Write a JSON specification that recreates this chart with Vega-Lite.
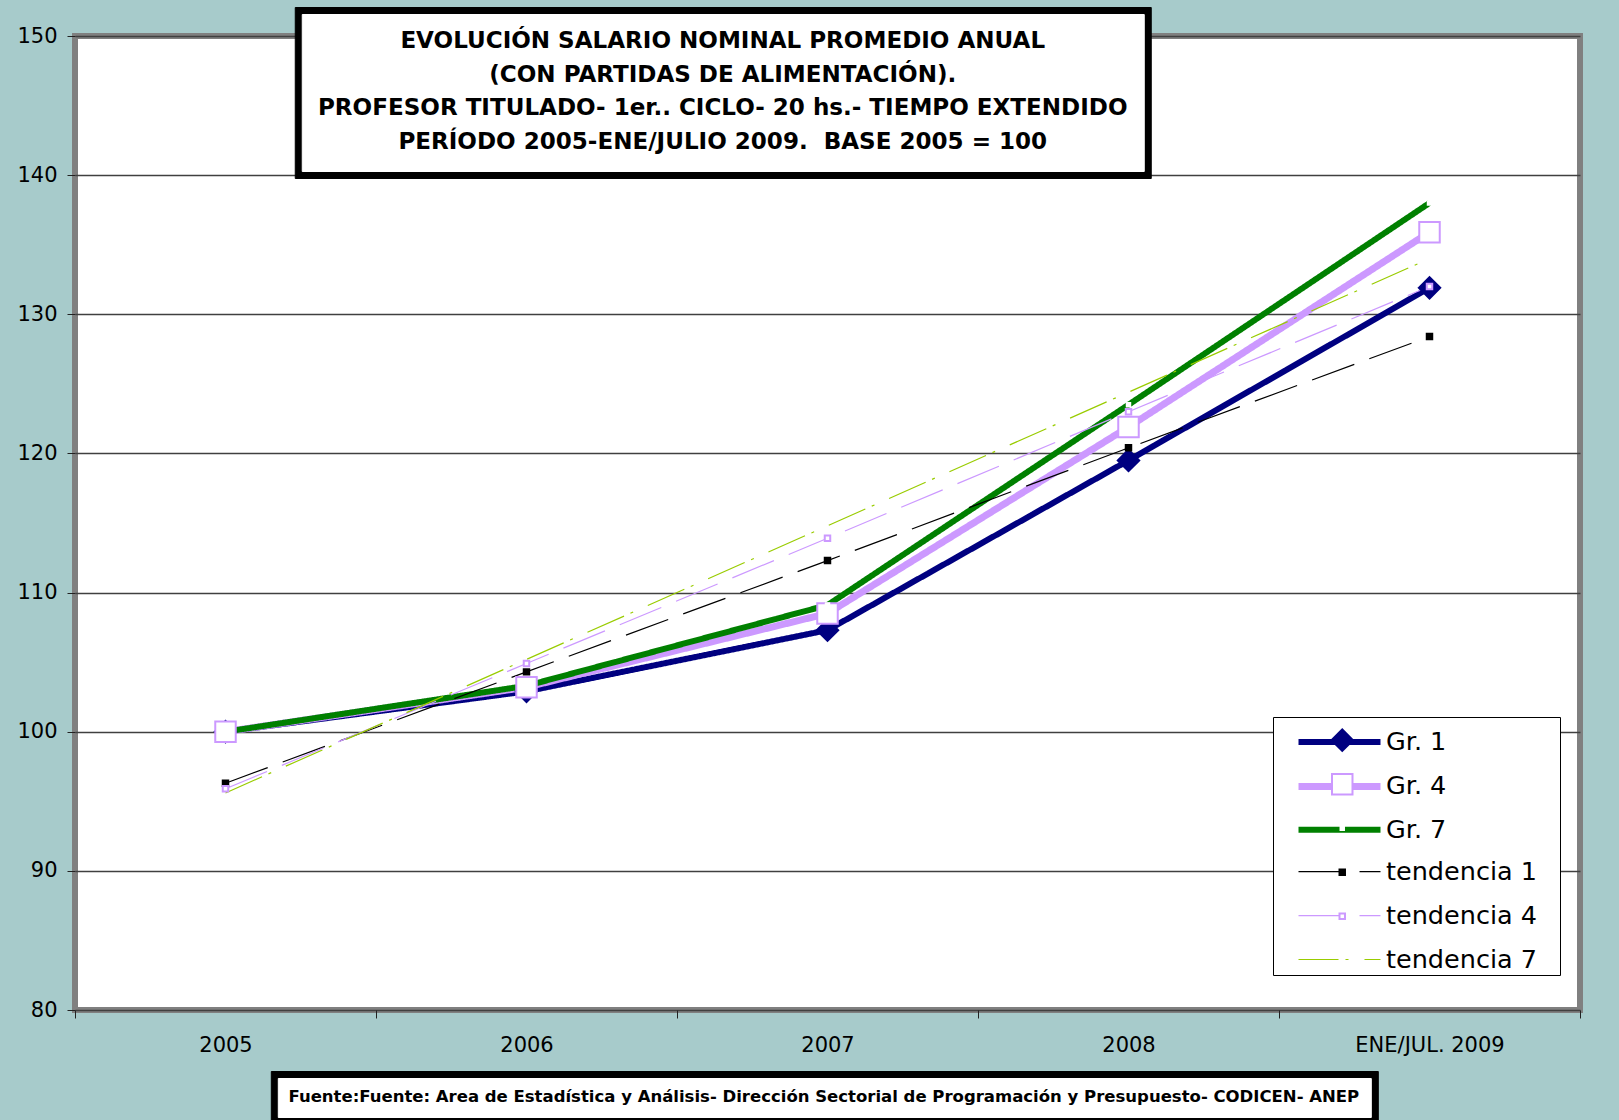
{
  "$schema": "https://vega.github.io/schema/vega-lite/v6.json",
  "width": 1505,
  "height": 974,
  "autosize": "none",
  "padding": {"left": 75, "top": 36, "right": 39, "bottom": 110},
  "background": "#A7CBCB",
  "config": {
    "view": {"fill": "white", "stroke": "#808080", "strokeWidth": 6},
    "font": "DejaVu Sans"
  },
  "data": {
    "values": [
      {"anio": "2005", "serie": "Gr. 1", "valor": 100.0},
      {"anio": "2006", "serie": "Gr. 1", "valor": 102.9},
      {"anio": "2007", "serie": "Gr. 1", "valor": 107.3},
      {"anio": "2008", "serie": "Gr. 1", "valor": 119.5},
      {"anio": "ENE/JUL. 2009", "serie": "Gr. 1", "valor": 131.9},
      {"anio": "2005", "serie": "Gr. 4", "valor": 100.0},
      {"anio": "2006", "serie": "Gr. 4", "valor": 103.2},
      {"anio": "2007", "serie": "Gr. 4", "valor": 108.5},
      {"anio": "2008", "serie": "Gr. 4", "valor": 121.9},
      {"anio": "ENE/JUL. 2009", "serie": "Gr. 4", "valor": 135.9},
      {"anio": "2005", "serie": "Gr. 7", "valor": 100.0},
      {"anio": "2006", "serie": "Gr. 7", "valor": 103.3},
      {"anio": "2007", "serie": "Gr. 7", "valor": 109.1},
      {"anio": "2008", "serie": "Gr. 7", "valor": 123.5},
      {"anio": "ENE/JUL. 2009", "serie": "Gr. 7", "valor": 138.0},
      {"anio": "2005", "serie": "tendencia 1", "valor": 96.3},
      {"anio": "2006", "serie": "tendencia 1", "valor": 104.3},
      {"anio": "2007", "serie": "tendencia 1", "valor": 112.3},
      {"anio": "2008", "serie": "tendencia 1", "valor": 120.4},
      {"anio": "ENE/JUL. 2009", "serie": "tendencia 1", "valor": 128.4},
      {"anio": "2005", "serie": "tendencia 4", "valor": 95.9},
      {"anio": "2006", "serie": "tendencia 4", "valor": 104.9},
      {"anio": "2007", "serie": "tendencia 4", "valor": 113.9},
      {"anio": "2008", "serie": "tendencia 4", "valor": 123.0},
      {"anio": "ENE/JUL. 2009", "serie": "tendencia 4", "valor": 132.0},
      {"anio": "2005", "serie": "tendencia 7", "valor": 95.6},
      {"anio": "2006", "serie": "tendencia 7", "valor": 105.2},
      {"anio": "2007", "serie": "tendencia 7", "valor": 114.8},
      {"anio": "2008", "serie": "tendencia 7", "valor": 124.4},
      {"anio": "ENE/JUL. 2009", "serie": "tendencia 7", "valor": 134.0}
    ]
  },
  "encoding": {
    "x": {
      "field": "anio", "type": "nominal", "sort": null,
      "scale": {"type": "band", "paddingInner": 0, "paddingOuter": 0},
      "axis": {"title": null, "labelAngle": 0, "tickBand": "extent", "tickSize": 8, "labelPadding": 16, "labelFontSize": 21, "labelColor": "black", "tickColor": "#222222", "domain": false, "grid": false}
    },
    "y": {
      "field": "valor", "type": "quantitative",
      "scale": {"domain": [80, 150], "nice": false, "zero": false},
      "axis": {"title": null, "values": [80, 90, 100, 110, 120, 130, 140, 150], "tickSize": 8, "labelPadding": 10, "labelFontSize": 21, "labelColor": "black", "tickColor": "#222222", "domain": false, "gridColor": "#404040", "gridWidth": 1.5}
    }
  },
  "resolve": {"scale": {"opacity": "independent"}, "legend": {"opacity": "independent"}},
  "layer": [
    {
      "mark": {"type": "line", "strokeJoin": "miter"},
      "encoding": {
        "color": {
          "field": "serie", "type": "nominal",
          "scale": {"domain": ["Gr. 1", "Gr. 4", "Gr. 7", "tendencia 1", "tendencia 4", "tendencia 7"], "range": ["#000080", "#CC99FF", "#008000", "#000000", "#CC99FF", "#99CC00"]},
          "legend": {"title": "x", "titleOrient": "right", "titleOpacity": 0, "titleFontSize": 14, "titlePadding": 11, "orient": "none", "legendX": 1198, "legendY": 681, "zindex": 1, "fillColor": "white", "strokeColor": "black", "padding": 2, "rowPadding": 5.9, "gridAlign": "all", "symbolType": "M-2.05,0H2.05", "symbolSize": 1600, "symbolOffset": 41, "labelOffset": 23, "labelFontSize": 25.5, "labelColor": "black", "labelLimit": 400}
        },
        "strokeDash": {
          "field": "serie", "type": "nominal",
          "scale": {"domain": ["Gr. 1", "Gr. 4", "Gr. 7", "tendencia 1", "tendencia 4", "tendencia 7"], "range": [[1, 0], [1, 0], [1, 0], [45, 16], [45, 16], [40, 7, 3, 16]]}
        },
        "strokeWidth": {
          "field": "serie", "type": "nominal",
          "scale": {"type": "ordinal", "domain": ["Gr. 1", "Gr. 4", "Gr. 7", "tendencia 1", "tendencia 4", "tendencia 7"], "range": [6, 7, 6, 1.2, 1.2, 1.2]}
        }
      }
    },
    {
      "transform": [{"filter": {"field": "serie", "oneOf": ["Gr. 1", "Gr. 4", "Gr. 7", "tendencia 1", "tendencia 4"]}}],
      "mark": {"type": "point", "filled": true, "opacity": 1, "strokeWidth": 2},
      "encoding": {
        "shape": {
          "field": "serie", "type": "nominal",
          "scale": {"domain": ["Gr. 1", "Gr. 4", "Gr. 7", "tendencia 1", "tendencia 4"], "range": ["diamond", "square", "square", "square", "square"]},
          "legend": {"title": null, "orient": "none", "legendX": 1198, "legendY": 689.4, "zindex": 2, "padding": 2, "rowPadding": 14, "gridAlign": "all", "symbolOffset": 54.5, "symbolStrokeWidth": 2, "symbolOpacity": 1, "labelOffset": 23, "labelFontSize": 25.5, "labelOpacity": 0, "labelLimit": 400, "labelExpr": "'\u00a0'"}
        },
        "fill": {
          "field": "serie", "type": "nominal",
          "scale": {"domain": ["Gr. 1", "Gr. 4", "Gr. 7", "tendencia 1", "tendencia 4"], "range": ["#000080", "#FFFFFF", "#FFFFFF", "#000000", "#FFFFFF"]}
        },
        "stroke": {
          "field": "serie", "type": "nominal",
          "scale": {"domain": ["Gr. 1", "Gr. 4", "Gr. 7", "tendencia 1", "tendencia 4"], "range": ["#000080", "#CC99FF", "#FFFFFF", "#000000", "#CC99FF"]}
        },
        "size": {
          "field": "serie", "type": "nominal",
          "scale": {"type": "ordinal", "domain": ["Gr. 1", "Gr. 4", "Gr. 7", "tendencia 1", "tendencia 4"], "range": [460, 420, 12, 30, 30]}
        },
        "opacity": {
          "field": "anio", "type": "ordinal", "scale": {"range": [1, 1]},
          "legend": {
            "title": ["EVOLUCIÓN SALARIO NOMINAL PROMEDIO ANUAL", "(CON PARTIDAS DE ALIMENTACIÓN).", "PROFESOR TITULADO- 1er.. CICLO- 20 hs.- TIEMPO EXTENDIDO", "PERÍODO 2005-ENE/JULIO 2009.\u00a0 BASE 2005 = 100"],
            "orient": "none", "legendX": 226.75, "legendY": -22, "zindex": 1, "fillColor": "white", "strokeColor": "white", "padding": 16,
            "titleFont": "DejaVu Sans", "titleFontSize": 23.05, "titleFontWeight": "bold", "titleColor": "black", "titleAlign": "center", "titleAnchor": "middle", "titleLineHeight": 33.5, "titleLimit": 2000, "titlePadding": 0,
            "values": ["2005"], "symbolSize": 0, "symbolOpacity": 0, "symbolStrokeWidth": 0, "labelOpacity": 0, "labelFontSize": 1, "rowPadding": 0
          }
        }
      }
    },
    {
      "transform": [{"filter": {"field": "serie", "equal": "tendencia 7"}}],
      "mark": {"type": "point", "filled": true, "size": 0, "strokeWidth": 0},
      "encoding": {
        "opacity": {
          "field": "anio", "type": "ordinal", "scale": {"range": [1, 1]},
          "legend": {
            "title": ["EVOLUCIÓN SALARIO NOMINAL PROMEDIO ANUAL", "(CON PARTIDAS DE ALIMENTACIÓN).", "PROFESOR TITULADO- 1er.. CICLO- 20 hs.- TIEMPO EXTENDIDO", "PERÍODO 2005-ENE/JULIO 2009.\u00a0 BASE 2005 = 100"],
            "orient": "none", "legendX": 219.75, "legendY": -29, "zindex": 0, "fillColor": "black", "strokeColor": "black", "padding": 23,
            "titleFont": "DejaVu Sans", "titleFontSize": 23.05, "titleFontWeight": "bold", "titleColor": "black", "titleAlign": "center", "titleAnchor": "middle", "titleLineHeight": 33.5, "titleLimit": 2000, "titlePadding": 0,
            "values": ["2005"], "symbolSize": 0, "symbolOpacity": 0, "symbolStrokeWidth": 0, "labelOpacity": 0, "labelFontSize": 1, "rowPadding": 0
          }
        }
      }
    },
    {
      "transform": [{"filter": {"field": "serie", "equal": "tendencia 7"}}],
      "mark": {"type": "point", "filled": true, "size": 0, "strokeWidth": 0},
      "encoding": {
        "opacity": {
          "field": "anio", "type": "ordinal", "scale": {"range": [1, 1]},
          "legend": {
            "title": "Fuente:Fuente: Area de Estadística y Análisis- Dirección Sectorial de Programación y Presupuesto- CODICEN- ANEP",
            "orient": "none", "legendX": 202.8, "legendY": 1042, "zindex": 1, "fillColor": "white", "strokeColor": "white", "padding": 11,
            "titleFont": "DejaVu Sans", "titleFontSize": 16.5, "titleFontWeight": "bold", "titleColor": "black", "titleAlign": "center", "titleAnchor": "middle", "titleLimit": 2000, "titlePadding": 0,
            "values": ["2005"], "symbolSize": 0, "symbolOpacity": 0, "symbolStrokeWidth": 0, "labelOpacity": 0, "labelFontSize": 1, "rowPadding": 0
          }
        }
      }
    },
    {
      "transform": [{"filter": {"field": "serie", "equal": "tendencia 7"}}],
      "mark": {"type": "point", "filled": true, "size": 0, "strokeWidth": 0},
      "encoding": {
        "opacity": {
          "field": "anio", "type": "ordinal", "scale": {"range": [1, 1]},
          "legend": {
            "title": "Fuente:Fuente: Area de Estadística y Análisis- Dirección Sectorial de Programación y Presupuesto- CODICEN- ANEP",
            "orient": "none", "legendX": 195.8, "legendY": 1035, "zindex": 0, "fillColor": "black", "strokeColor": "black", "padding": 18,
            "titleFont": "DejaVu Sans", "titleFontSize": 16.5, "titleFontWeight": "bold", "titleColor": "black", "titleAlign": "center", "titleAnchor": "middle", "titleLimit": 2000, "titlePadding": 0,
            "values": ["2005"], "symbolSize": 0, "symbolOpacity": 0, "symbolStrokeWidth": 0, "labelOpacity": 0, "labelFontSize": 1, "rowPadding": 0
          }
        }
      }
    }
  ]
}
